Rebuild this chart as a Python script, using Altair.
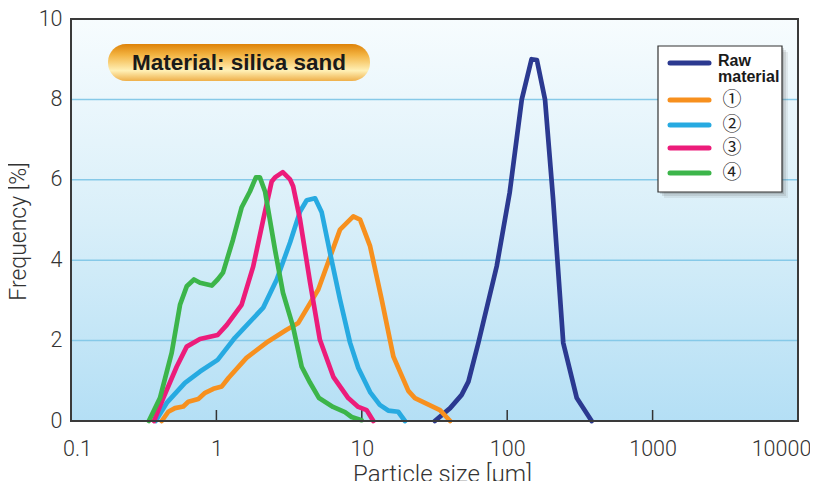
import altair as alt
import pandas as pd

# ---------------- data ----------------
series_names = ["Raw material", "①", "②", "③", "④"]
series_colors = ["#2b3990", "#f7901e", "#27aae1", "#ec1c7a", "#3cb54a"]

raw_x = [31.8, 40.5, 48.6, 54.1, 63.3, 84.7, 104, 126, 147, 160, 182, 207, 243, 301, 381]
raw_y = [0.0, 0.32, 0.65, 0.98, 1.94, 3.85, 5.68, 8.0, 9.0, 8.98, 8.0, 5.51, 1.94, 0.57, 0.0]

s1_x = [0.421, 0.467, 0.519, 0.592, 0.641, 0.751, 0.836, 0.953, 1.09, 1.21, 1.61, 2.27, 3.04,
        3.66, 5.02, 7.08, 8.74, 9.73, 11.4, 13.7, 16.5, 20.9, 23.2, 34.5, 40.5]
s1_y = [0.0, 0.23, 0.32, 0.36, 0.48, 0.55, 0.70, 0.80, 0.86, 1.07, 1.57, 1.98, 2.27,
        2.44, 3.27, 4.76, 5.09, 5.01, 4.35, 3.02, 1.60, 0.75, 0.57, 0.27, 0.0]

s2_x = [0.382, 0.455, 0.608, 0.771, 1.02, 1.34, 2.10, 2.60, 3.21, 3.76, 4.18, 4.77, 5.30,
        6.04, 7.08, 8.30, 9.46, 11.4, 13.3, 15.2, 17.8, 19.8]
s2_y = [0.0, 0.45, 0.95, 1.23, 1.52, 2.07, 2.82, 3.52, 4.44, 5.21, 5.49, 5.54, 5.19,
        4.19, 3.02, 1.95, 1.32, 0.72, 0.40, 0.26, 0.23, 0.0]

s3_x = [0.372, 0.431, 0.533, 0.625, 0.771, 1.02, 1.18, 1.49, 1.79, 2.10, 2.40, 2.53, 2.86,
        3.21, 3.37, 3.76, 4.41, 5.15, 6.37, 8.07, 9.46, 10.8, 12.0]
s3_y = [0.0, 0.57, 1.35, 1.85, 2.04, 2.14, 2.39, 2.89, 3.84, 5.01, 5.96, 6.06, 6.19,
        6.01, 5.84, 5.01, 3.44, 2.02, 1.10, 0.57, 0.35, 0.27, 0.0]

s4_x = [0.343, 0.409, 0.493, 0.562, 0.625, 0.701, 0.771, 0.929, 1.02, 1.11, 1.30, 1.49, 1.70,
        1.87, 1.99, 2.16, 2.53, 2.87, 3.37, 3.86, 4.41, 5.08, 6.34, 7.66, 8.51, 9.97]
s4_y = [0.0, 0.57, 1.70, 2.89, 3.35, 3.52, 3.44, 3.37, 3.52, 3.69, 4.51, 5.31, 5.71,
        6.06, 6.06, 5.71, 4.26, 3.19, 2.34, 1.35, 0.95, 0.57, 0.35, 0.22, 0.10, 0.02]

x_tick_values = [0.1, 1, 10, 100, 1000, 10000]
inner_tick_values = [1, 10, 100, 1000]
y_tick_values = [0, 2, 4, 6, 8, 10]
grid_values = [2, 4, 6, 8]

# ---------------- build tables ----------------
rows = []
for name, xs, ys in zip(series_names,
                        [raw_x, s1_x, s2_x, s3_x, s4_x],
                        [raw_y, s1_y, s2_y, s3_y, s4_y]):
    for xv, yv in zip(xs, ys):
        rows.append({"series": name, "x": xv, "y": yv})
df = pd.DataFrame(rows)

W, H = 727, 402
FONT = "Roboto"
FW = 300
TXT = "#333333"

xscale = alt.Scale(type="log", domain=[0.1, 10000], nice=False)
yscale = alt.Scale(domain=[0, 10], nice=False)
cscale = alt.Scale(domain=series_names, range=series_colors)

xaxis = alt.Axis(values=x_tick_values, grid=False, ticks=False, tickSize=0, domain=False,
                 labelExpr="datum.value < 1 ? format(datum.value, '.1f') : format(datum.value, 'd')",
                 labelFont=FONT, labelFontSize=21.5, labelFontWeight=FW, labelColor=TXT,
                 labelPadding=17, labelFlush=False,
                 labelOffset={"condition": [{"test": "datum.value < 0.5", "value": 6},
                                            {"test": "datum.value > 5000", "value": -17}],
                              "value": 0},
                 title="Particle size [μm]", titleFont=FONT, titleFontSize=24,
                 titleFontWeight=FW, titleColor=TXT, titlePadding=3, titleX=371)
yaxis = alt.Axis(values=y_tick_values, grid=False, ticks=False, tickSize=0, domain=False,
                 labelFont=FONT, labelFontSize=21.5, labelFontWeight=FW, labelColor=TXT,
                 labelPadding=9,
                 title="Frequency [%]", titleFont=FONT, titleFontSize=23,
                 titleFontWeight=FW, titleColor=TXT, titlePadding=8, titleY=212)

one = pd.DataFrame({"a": [0]})

# background gradient
bg = alt.Chart(one).mark_rect(
    color=alt.LinearGradient(
        gradient="linear", x1=0, x2=0, y1=0, y2=1,
        stops=[alt.GradientStop(offset=0, color="#f7fcfe"),
               alt.GradientStop(offset=0.5, color="#d9eff9"),
               alt.GradientStop(offset=1, color="#b4dff5")])
).encode(x=alt.value(0), x2=alt.value(W), y=alt.value(0), y2=alt.value(H))

grid = alt.Chart(pd.DataFrame({"g": grid_values})).mark_rule(
    color="#86c9e8", strokeWidth=1.5
).encode(y=alt.Y("g:Q", scale=yscale, axis=yaxis), x=alt.value(0), x2=alt.value(W))

ticks = alt.Chart(pd.DataFrame({"t": inner_tick_values})).mark_rule(
    color="#333333", strokeWidth=1.5
).encode(x=alt.X("t:Q", scale=xscale, axis=xaxis), y=alt.value(H), y2=alt.value(H - 11))

lines = alt.Chart(df).mark_line(strokeWidth=4.7, strokeJoin="round", strokeCap="round").encode(
    x=alt.X("x:Q", scale=xscale, axis=xaxis),
    y=alt.Y("y:Q", scale=yscale, axis=yaxis),
    color=alt.Color("series:N", scale=cscale, legend=None),
    detail="series:N",
)

border = alt.Chart(one).mark_rect(fillOpacity=0, stroke="#3a3a3a", strokeWidth=2).encode(
    x=alt.value(0), x2=alt.value(W), y=alt.value(0), y2=alt.value(H))

# title pill
pill = alt.Chart(one).mark_rect(
    cornerRadius=18,
    color=alt.LinearGradient(
        gradient="linear", x1=0, x2=0, y1=0, y2=1,
        stops=[alt.GradientStop(offset=0, color="#de8208"),
               alt.GradientStop(offset=0.3, color="#f3b443"),
               alt.GradientStop(offset=0.72, color="#fff0b6"),
               alt.GradientStop(offset=1, color="#efb04a")])
).encode(x=alt.value(37), x2=alt.value(299), y=alt.value(25), y2=alt.value(62))

pill_text = alt.Chart(one).mark_text(
    text="Material: silica sand", font="Liberation Sans", fontSize=22.5, fontWeight="bold",
    color="#1a1a1a", align="center", baseline="middle"
).encode(x=alt.value(168), y=alt.value(44))

# legend
LX0, LX1, LY0, LY1 = 587, 711, 27, 173
layers_legend = []
for off, op in [(6, 0.10), (4, 0.15), (2, 0.2)]:
    layers_legend.append(alt.Chart(one).mark_rect(color="#555555", opacity=op).encode(
        x=alt.value(LX0 + off), x2=alt.value(LX1 + off), y=alt.value(LY0 + off), y2=alt.value(LY1 + off)))
layers_legend.append(alt.Chart(one).mark_rect(fill="white", stroke="#333333", strokeWidth=1.2).encode(
    x=alt.value(LX0), x2=alt.value(LX1), y=alt.value(LY0), y2=alt.value(LY1)))

legend_line_y = [44, 81, 106, 129, 154]
for name, col, ly in zip(series_names, series_colors, legend_line_y):
    layers_legend.append(alt.Chart(one).mark_rule(color=col, strokeWidth=5, strokeCap="round").encode(
        x=alt.value(599), x2=alt.value(638), y=alt.value(ly)))
    if name == "Raw material":
        layers_legend.append(alt.Chart(one).mark_text(
            text=["Raw", "material"], font="Liberation Sans Narrow, Liberation Sans", fontSize=16,
            fontWeight="bold", color="#1a1a1a", align="left", baseline="middle", lineHeight=16
        ).encode(x=alt.value(647), y=alt.value(42)))
    else:
        layers_legend.append(alt.Chart(one).mark_text(
            text=name, font="Noto Sans CJK JP", fontSize=19, color="#222222", align="center",
            baseline="middle"
        ).encode(x=alt.value(661), y=alt.value(ly)))

chart = alt.layer(bg, grid, ticks, lines, border, pill, pill_text, *layers_legend).properties(
    width=W, height=H,
    padding={"left": 63, "top": 11, "right": 12, "bottom": 62},
    autosize="none",
).configure_view(stroke=None)

chart.save("out.html", embed_options={"renderer": "svg", "actions": False})
